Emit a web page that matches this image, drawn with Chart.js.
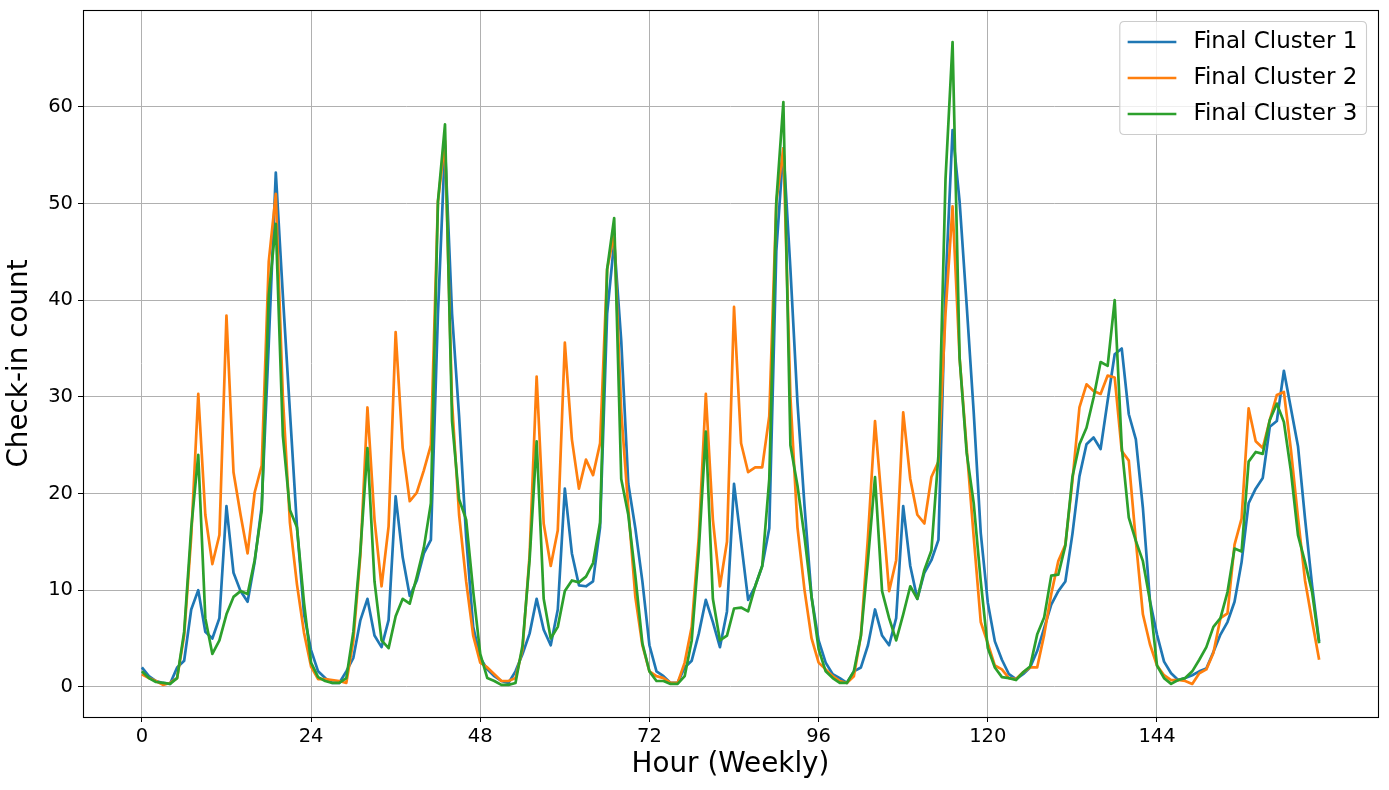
<!DOCTYPE html>
<html>
<head>
<meta charset="utf-8">
<script src="https://cdn.jsdelivr.net/npm/chart.js@4.4.1/dist/chart.umd.min.js"></script>
<style>
  html, body { margin: 0; padding: 0; background: #ffffff; }
  #wrap { width: 1389px; height: 790px; }
</style>
</head>
<body>
<div id="wrap"><canvas id="c" width="1389" height="790"></canvas></div>
<script>
// ---- Data ----
const seriesNames = ['Final Cluster 1', 'Final Cluster 2', 'Final Cluster 3'];
const seriesColors = ['#1f77b4', '#ff7f0e', '#2ca02c'];

const cluster1 = [
  2.0, 1.1, 0.6, 0.4, 0.3, 2.0, 2.7, 8.0, 10.0, 5.7, 5.0, 7.1, 18.7, 11.8, 9.9, 8.8, 12.9, 18.7, 35.5, 53.2, 40.5, 28.5, 16.6, 7.5,
  3.8, 1.6, 0.9, 0.4, 0.4, 1.6, 3.0, 6.9, 9.1, 5.3, 4.1, 6.9, 19.7, 13.4, 9.4, 11.0, 13.8, 15.2, 38.6, 56.0, 38.6, 28.0, 15.5, 6.2,
  3.0, 1.8, 1.1, 0.6, 0.4, 1.6, 3.4, 5.5, 9.1, 5.9, 4.3, 8.0, 20.5, 13.8, 10.5, 10.4, 10.9, 16.5, 38.6, 46.0, 35.8, 21.0, 16.4, 10.9,
  4.3, 1.6, 1.1, 0.4, 0.4, 2.0, 2.7, 5.5, 9.0, 6.7, 4.1, 7.8, 21.0, 15.0, 9.0, 10.4, 12.5, 16.4, 45.1, 55.7, 43.2, 29.4, 18.7, 9.3,
  4.8, 2.5, 1.3, 0.9, 0.4, 1.6, 2.0, 4.3, 8.0, 5.3, 4.3, 7.1, 18.7, 12.5, 9.1, 11.8, 13.1, 15.2, 41.4, 57.6, 50.2, 39.5, 28.4, 15.9,
  8.7, 4.7, 2.8, 1.3, 0.8, 1.3, 2.0, 3.7, 6.1, 8.5, 9.9, 10.9, 15.8, 21.8, 25.1, 25.8, 24.6, 29.6, 34.4, 35.0, 28.2, 25.6, 18.5, 8.9,
  5.4, 2.6, 1.4, 0.7, 0.9, 1.2, 1.6, 1.9, 3.6, 5.4, 6.7, 8.8, 12.9, 19.0, 20.5, 21.6, 26.9, 27.5, 32.7, 28.8, 24.9, 17.4, 10.5, 4.7
];
const cluster2 = [
  1.3, 0.9, 0.6, 0.2, 0.4, 0.9, 5.3, 15.5, 30.3, 17.8, 12.7, 15.7, 38.4, 22.2, 17.8, 13.8, 20.1, 22.9, 44.0, 51.0, 30.0, 17.0, 10.6, 5.6,
  2.1, 0.8, 0.8, 0.7, 0.6, 0.4, 4.8, 13.6, 28.9, 17.3, 10.4, 16.6, 36.7, 24.7, 19.2, 20.1, 22.4, 25.0, 50.2, 56.5, 29.4, 17.8, 10.9, 5.3,
  2.5, 2.0, 1.3, 0.6, 0.6, 0.9, 3.9, 13.6, 32.1, 16.9, 12.5, 16.2, 35.6, 25.6, 20.5, 23.5, 21.9, 25.2, 43.2, 46.9, 28.5, 18.5, 9.3, 4.3,
  1.6, 1.1, 0.9, 0.4, 0.4, 2.5, 6.2, 15.5, 30.3, 17.3, 10.4, 15.0, 39.3, 25.2, 22.2, 22.7, 22.7, 28.0, 50.2, 55.7, 30.0, 16.5, 10.0, 5.0,
  2.5, 1.8, 1.1, 0.6, 0.4, 1.1, 5.3, 15.5, 27.5, 18.7, 9.9, 13.1, 28.4, 21.5, 17.8, 16.9, 21.7, 23.3, 38.6, 49.7, 34.0, 24.7, 15.5, 6.7,
  4.5, 2.2, 1.8, 0.9, 0.8, 1.5, 2.0, 2.0, 5.4, 9.6, 13.0, 14.7, 21.3, 28.9, 31.3, 30.6, 30.3, 32.2, 32.0, 24.4, 23.4, 15.1, 7.5, 4.4,
  2.2, 1.2, 0.7, 0.7, 0.6, 0.3, 1.4, 1.8, 3.5, 7.1, 7.6, 14.7, 17.4, 28.8, 25.4, 24.7, 27.6, 30.2, 30.5, 24.5, 17.5, 11.0, 6.8, 2.8
];
const cluster3 = [
  1.6, 0.9, 0.5, 0.4, 0.3, 0.9, 5.7, 16.4, 24.0, 7.1, 3.4, 4.8, 7.5, 9.3, 9.9, 9.6, 13.1, 18.2, 40.5, 47.9, 26.0, 18.3, 16.5, 8.7,
  2.5, 1.0, 0.6, 0.4, 0.4, 0.9, 5.7, 14.1, 24.7, 10.9, 4.8, 4.0, 7.3, 9.1, 8.6, 11.4, 14.4, 19.0, 50.2, 58.2, 27.5, 19.4, 17.3, 9.9,
  3.4, 0.9, 0.6, 0.2, 0.2, 0.4, 4.3, 13.1, 25.4, 9.1, 5.0, 6.2, 9.9, 11.0, 10.8, 11.4, 12.8, 17.0, 43.2, 48.5, 21.5, 17.8, 11.5, 4.5,
  1.6, 0.6, 0.6, 0.3, 0.3, 1.1, 4.8, 14.1, 26.4, 9.1, 4.8, 5.3, 8.1, 8.2, 7.8, 10.4, 12.5, 21.5, 50.2, 60.5, 25.0, 20.8, 15.5, 9.3,
  3.9, 1.6, 0.9, 0.4, 0.4, 1.6, 5.3, 13.1, 21.7, 9.9, 7.1, 4.8, 7.5, 10.4, 9.1, 12.1, 14.1, 24.0, 52.5, 66.7, 34.0, 24.2, 19.0, 10.9,
  4.0, 2.0, 1.0, 0.9, 0.7, 1.5, 2.1, 5.4, 7.2, 11.5, 11.6, 14.6, 21.7, 25.1, 26.8, 29.9, 33.6, 33.2, 40.0, 24.8, 17.5, 15.1, 13.0, 8.9,
  2.2, 0.9, 0.3, 0.7, 0.9, 1.6, 2.8, 4.1, 6.2, 7.1, 9.8, 14.3, 14.0, 23.3, 24.3, 24.1, 27.6, 29.3, 27.4, 22.3, 15.7, 12.9, 9.8, 4.5
];
const hours = cluster1.map((_, i) => i);          // hour-of-week categories 0..167
const xTickValues = [0, 24, 48, 72, 96, 120, 144];
const yTickValues = [0, 10, 20, 30, 40, 50, 60];
const xTitle = 'Hour (Weekly)';
const yTitle = 'Check-in count';

// ---- Build chart ----
const FONT = 'DejaVu Sans';
const allSeries = [cluster1, cluster2, cluster3];
const datasets = allSeries.map((vals, k) => ({
  label: seriesNames[k],
  data: vals.map((v, i) => ({ x: hours[i], y: v })),
  borderColor: seriesColors[k],
  backgroundColor: seriesColors[k],
  borderWidth: 2.7,
  pointRadius: 0,
  pointHoverRadius: 0,
  tension: 0,
  fill: false,
  order: 3 - k,
  borderCapStyle: 'butt',
  borderJoinStyle: 'round'
}));

const xMin = hours[0], xMax = hours[hours.length - 1];
const xPad = (xMax - xMin) * 0.05;
const yAll = allSeries.flat();
const yLo = Math.min(...yAll), yHi = Math.max(...yAll);
const yPad = (yHi - yLo) * 0.05;

const framePlugin = {
  id: 'mplFrameLegend',
  afterDatasetsDraw(chart) {
    const ctx = chart.ctx;
    const a = chart.chartArea;
    ctx.save();
    // axes frame
    ctx.strokeStyle = '#000000';
    ctx.lineWidth = 1.1;
    ctx.strokeRect(Math.round(a.left) + 0.5, Math.round(a.top) + 0.5,
                   Math.round(a.right - a.left), Math.round(a.bottom - a.top));
    // legend (matplotlib-like, upper right)
    const fs = 23;
    ctx.font = fs + 'px "' + FONT + '"';
    const texts = chart.data.datasets.map(d => d.label);
    const tw = Math.max(...texts.map(t => ctx.measureText(t).width));
    const pad = 0.4 * fs, hl = 2.0 * fs, htp = 0.8 * fs;
    const rowPitch = 36, rowHalf = 11.3;
    const boxW = pad + hl + htp + tw + pad;
    const boxH = pad * 2 + rowHalf * 2 + rowPitch * (texts.length - 1);
    const right = a.right - 0.5 * fs;
    const top = a.top + 0.5 * fs;
    const left = right - boxW;
    const r = 0.2 * fs;
    ctx.beginPath();
    ctx.moveTo(left + r, top);
    ctx.lineTo(right - r, top);
    ctx.quadraticCurveTo(right, top, right, top + r);
    ctx.lineTo(right, top + boxH - r);
    ctx.quadraticCurveTo(right, top + boxH, right - r, top + boxH);
    ctx.lineTo(left + r, top + boxH);
    ctx.quadraticCurveTo(left, top + boxH, left, top + boxH - r);
    ctx.lineTo(left, top + r);
    ctx.quadraticCurveTo(left, top, left + r, top);
    ctx.closePath();
    ctx.fillStyle = 'rgba(255,255,255,0.8)';
    ctx.fill();
    ctx.strokeStyle = '#cccccc';
    ctx.lineWidth = 1.1;
    ctx.stroke();
    texts.forEach((t, i) => {
      const cy = top + pad + rowHalf + i * rowPitch;
      ctx.beginPath();
      ctx.strokeStyle = chart.data.datasets[i].borderColor;
      ctx.lineWidth = 2.7;
      ctx.lineCap = 'square';
      ctx.moveTo(left + pad, cy);
      ctx.lineTo(left + pad + hl, cy);
      ctx.stroke();
      ctx.fillStyle = '#000000';
      ctx.textAlign = 'left';
      ctx.textBaseline = 'middle';
      ctx.fillText(t, left + pad + hl + htp, cy);
    });
    ctx.restore();
  }
};

function zeroPad(s) { s.paddingTop = 0; s.paddingBottom = 0; s.paddingLeft = 0; s.paddingRight = 0; }

new Chart(document.getElementById('c'), {
  type: 'line',
  data: { datasets },
  options: {
    responsive: false,
    devicePixelRatio: 1,
    animation: false,
    events: [],
    layout: { padding: { top: 10, right: 11, left: 0, bottom: 0 } },
    plugins: { legend: { display: false }, tooltip: { enabled: false } },
    scales: {
      x: {
        type: 'linear',
        min: xMin - xPad,
        max: xMax + xPad,
        afterBuildTicks: s => { s.ticks = xTickValues.map(v => ({ value: v })); },
        afterFit: s => { s.height = 73; zeroPad(s); },
        ticks: {
          autoSkip: false, maxRotation: 0, minRotation: 0,
          color: '#000000', padding: 3,
          font: { family: FONT, size: 19.5 },
          callback: v => String(v)
        },
        grid: { color: '#b0b0b0', lineWidth: 1, tickColor: '#000000', tickLength: 5, drawTicks: true },
        border: { display: false },
        title: {
          display: true, text: xTitle, color: '#000000',
          font: { family: FONT, size: 27.8 },
          padding: { top: 0, bottom: 9 }
        }
      },
      y: {
        type: 'linear',
        min: yLo - yPad,
        max: yHi + yPad,
        afterBuildTicks: s => { s.ticks = yTickValues.map(v => ({ value: v })); },
        afterFit: s => { s.width = 83; zeroPad(s); },
        ticks: {
          color: '#000000', padding: 5,
          font: { family: FONT, size: 19.5 },
          callback: v => String(v)
        },
        grid: { color: '#b0b0b0', lineWidth: 1, tickColor: '#000000', tickLength: 5, drawTicks: true },
        border: { display: false },
        title: {
          display: true, text: yTitle, color: '#000000',
          font: { family: FONT, size: 27.8 },
          padding: { top: 3, bottom: 0 }
        }
      }
    }
  },
  plugins: [framePlugin]
});
</script>
</body>
</html>
